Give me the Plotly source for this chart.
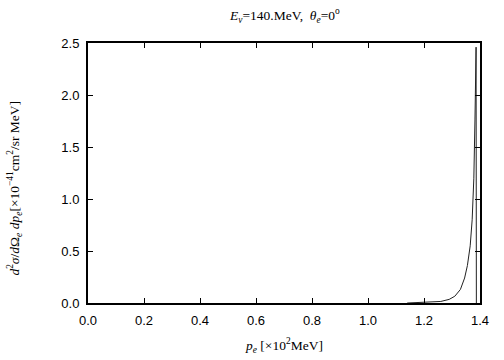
import plotly.graph_objects as go

# Data
p_e = [1.14, 1.18, 1.22, 1.26, 1.29, 1.31, 1.33, 1.345, 1.355, 1.365,
       1.372, 1.378, 1.382, 1.385, 1.386, 1.387]
xsec = [0.0, 0.003, 0.008, 0.015, 0.035, 0.065, 0.13, 0.24, 0.36, 0.55,
        0.80, 1.20, 1.76, 2.30, 2.46, 0.0]

x_ticks = [0.0, 0.2, 0.4, 0.6, 0.8, 1.0, 1.2, 1.4]
x_tick_labels = ["0.0", "0.2", "0.4", "0.6", "0.8", "1.0", "1.2", "1.4"]
y_ticks = [0.0, 0.5, 1.0, 1.5, 2.0, 2.5]
y_tick_labels = ["0.0", "0.5", "1.0", "1.5", "2.0", "2.5"]

fig = go.Figure()
fig.add_trace(go.Scatter(x=p_e, y=xsec, mode="lines",
                         line=dict(color="#222222", width=1),
                         showlegend=False, hoverinfo="skip"))

axis_common = dict(showgrid=False, zeroline=False, showline=True,
                   linecolor="black", linewidth=2, mirror="ticks",
                   ticks="inside", ticklen=5, tickwidth=1, tickcolor="black",
                   tickfont=dict(family="Liberation Sans, Arial", size=13, color="black"))

fig.update_xaxes(range=[0, 1.4], tickvals=x_ticks, ticktext=x_tick_labels,
                 ticklabelstandoff=4, **axis_common)
fig.update_yaxes(range=[0, 2.5], tickvals=y_ticks, ticktext=y_tick_labels,
                 ticklabelstandoff=4, **axis_common)

serif = dict(family="Liberation Serif, Times New Roman", size=13.5, color="black")

fig.update_layout(
    width=504, height=360,
    margin=dict(l=88, r=24, t=43, b=57),
    paper_bgcolor="white", plot_bgcolor="white",
    annotations=[
        dict(text="<i>E<sub>ν</sub></i>=140.MeV,  <i>θ<sub>e</sub></i>=0<sup>o</sup>",
             x=0.5, y=1, xref="paper", yref="paper", xanchor="center", yanchor="bottom",
             yshift=16, showarrow=False, font=serif),
        dict(text="<i>p<sub>e</sub></i> [×10<sup>2</sup>MeV]",
             x=0.5, y=0, xref="paper", yref="paper", xanchor="center", yanchor="top",
             yshift=-31, showarrow=False, font=serif),
        dict(text="<i>d</i><sup>2</sup><i>σ</i>/<i>d</i>Ω<sub><i>e</i></sub> <i>dp<sub>e</sub></i>[×10<sup>−41</sup>cm<sup>2</sup>/sr MeV]",
             x=0, y=0.44, xref="paper", yref="paper", xanchor="center", yanchor="middle",
             xshift=-73, textangle=-90, showarrow=False, font=serif),
    ],
)

fig.write_html("out.html", config={"displayModeBar": False},
               post_script="document.body.style.margin='0';document.body.style.padding='0';")
